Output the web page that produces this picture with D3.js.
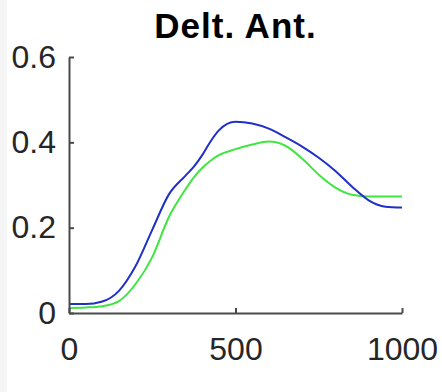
<!DOCTYPE html>
<html>
<head>
<meta charset="utf-8">
<script src="https://cdn.jsdelivr.net/npm/d3@7"></script>
<style>
  body { margin: 0; background: #fff; }
  svg { display: block; }
  .tick text { font-family: "Liberation Sans", Arial, sans-serif; }
</style>
</head>
<body>
<svg class="chart"></svg>
<script>
// sample positions (time) and the two traces
var xs = [0, 50, 100, 150, 200, 250, 300, 350, 375, 400, 425, 450, 500,
          550, 600, 650, 700, 750, 800, 850, 900, 950, 1000];
var blueVals = [0.021, 0.021, 0.027, 0.052, 0.110, 0.195, 0.278, 0.322, 0.343, 0.370, 0.402, 0.428, 0.448,
                0.444, 0.432, 0.412, 0.390, 0.364, 0.333, 0.296, 0.264, 0.249, 0.247];
var greenVals = [0.012, 0.013, 0.016, 0.028, 0.068, 0.131, 0.225, 0.290, 0.318, 0.340, 0.357, 0.370, 0.384,
                 0.395, 0.402, 0.392, 0.362, 0.324, 0.294, 0.277, 0.273, 0.273, 0.273];
var xTicks = [0, 500, 1000];
var yTicks = [0, 0.2, 0.4, 0.6];
var title = "Delt. Ant.";

var W = 442, H = 392;
var margin = {top: 57, right: 40, bottom: 79, left: 69},
    width = W - margin.left - margin.right,
    height = H - margin.top - margin.bottom;

var svg = d3.select(".chart")
    .attr("width", W)
    .attr("height", H);

// faint grey strip at the left edge of the screenshot
svg.append("rect")
    .attr("x", 0).attr("y", 0)
    .attr("width", 7).attr("height", H)
    .attr("fill", "#f5f5f5");

var g = svg.append("g")
    .attr("transform", "translate(" + margin.left + "," + margin.top + ")");

var x = d3.scaleLinear().domain([0, 1000]).range([0, width]);
var y = d3.scaleLinear().domain([0, 0.6]).range([height, 0]);

var line = d3.line()
    .x(function(d) { return x(d[0]); })
    .y(function(d) { return y(d[1]); })
    .curve(d3.curveMonotoneX);

g.append("path")
    .datum(d3.zip(xs, greenVals))
    .attr("fill", "none")
    .attr("stroke", "#3fe63f")
    .attr("stroke-width", 2)
    .attr("d", line);

g.append("path")
    .datum(d3.zip(xs, blueVals))
    .attr("fill", "none")
    .attr("stroke", "#1f2fc8")
    .attr("stroke-width", 2)
    .attr("d", line);

// axes with inward ticks, MATLAB style
var xAxis = d3.axisBottom(x)
    .tickValues(xTicks)
    .tickSizeInner(-5)
    .tickSizeOuter(0)
    .tickPadding(24)
    .tickFormat(d3.format("d"));

var yAxis = d3.axisLeft(y)
    .tickValues(yTicks)
    .tickSizeInner(-5)
    .tickSizeOuter(0)
    .tickPadding(13)
    .tickFormat(function(d) { return d === 0 ? "0" : d3.format(".1f")(d); });

var gx = g.append("g")
    .attr("transform", "translate(0," + height + ")")
    .call(xAxis);

var gy = g.append("g")
    .call(yAxis);

[gx, gy].forEach(function(a) {
  a.select(".domain").attr("stroke", "#4a4a4a").attr("stroke-width", 2);
  a.selectAll(".tick line").attr("stroke", "#4a4a4a").attr("stroke-width", 2);
  a.selectAll(".tick text")
      .attr("fill", "#262626")
      .style("font-size", "32px");
});

svg.append("text")
    .attr("x", margin.left + width / 2)
    .attr("y", 38)
    .attr("text-anchor", "middle")
    .style("font-family", "'Liberation Sans', Arial, sans-serif")
    .style("font-weight", "bold")
    .style("font-size", "35px")
    .style("letter-spacing", "1px")
    .attr("fill", "#000")
    .text(title);
</script>
</body>
</html>
